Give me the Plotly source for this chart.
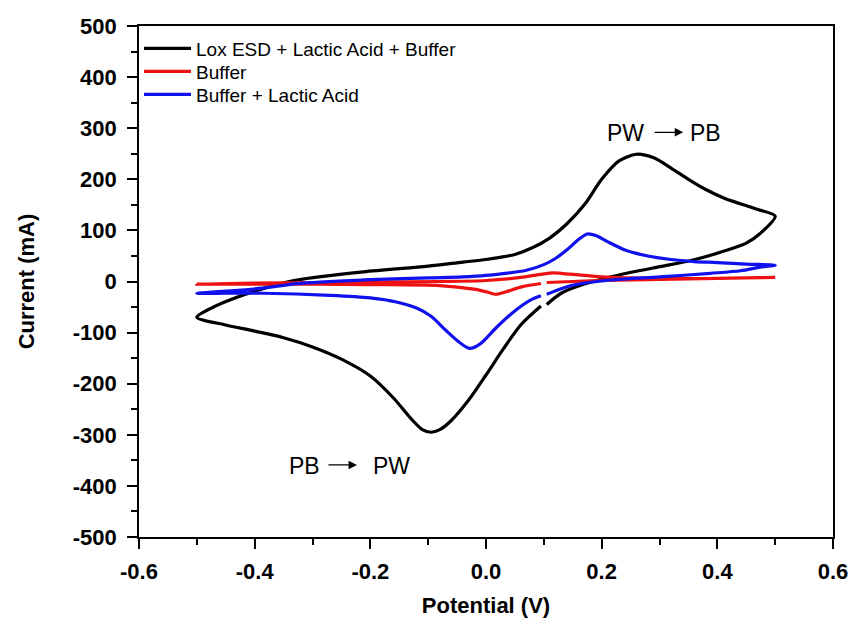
import plotly.graph_objects as go

# ---- data (potential in V, current in mA), each a closed CV loop ----
lox_potential = [0.105, 0.13, 0.17, 0.216, 0.26, 0.301, 0.358, 0.416, 0.45, 0.474, 0.5,
                 0.47, 0.44, 0.41, 0.38, 0.35, 0.32, 0.29, 0.26, 0.23, 0.2, 0.17, 0.14,
                 0.11, 0.08, 0.05, 0.0, -0.04, -0.1, -0.212, -0.327, -0.38, -0.443,
                 -0.475, -0.5,
                 -0.45, -0.4, -0.35, -0.3, -0.25, -0.2, -0.16, -0.13, -0.11, -0.095, -0.08,
                 -0.06, -0.03, 0.0, 0.03, 0.06, 0.095]
lox_current = [-45, -23, -5, 9, 20, 29, 42, 61, 75, 94, 128,
               141, 152, 164, 180, 200, 222, 242, 249, 236, 200, 150, 113,
               85, 66, 53, 43, 38, 30, 19, 3, -12, -36,
               -52, -70,
               -85, -97, -110, -128, -152, -185, -228, -268, -290, -295, -290,
               -272, -232, -183, -132, -85, -48]

buffer_potential = [0.105, 0.15, 0.2, 0.3, 0.4, 0.5,
                    0.45, 0.4, 0.3, 0.2, 0.16, 0.13, 0.115, 0.1, 0.06, 0.0, -0.08, -0.2, -0.3,
                    -0.4, -0.5,
                    -0.4, -0.3, -0.2, -0.08, -0.021, 0.0, 0.018, 0.035, 0.063, 0.095]
buffer_current = [-2, 0, 2, 4, 6, 8,
                  7, 6, 6, 9, 13, 16, 17, 15, 8, 2, 0, -1, -2,
                  -3, -5,
                  -5, -5, -6, -8, -15, -20, -25, -20, -10, -4]

la_potential = [0.105, 0.13, 0.151, 0.216, 0.301, 0.388, 0.44, 0.474, 0.5,
                0.45, 0.4, 0.36, 0.32, 0.28, 0.244, 0.21, 0.19, 0.175, 0.16, 0.14, 0.12, 0.1,
                0.07, 0.0, -0.04, -0.1, -0.212, -0.327, -0.386, -0.45, -0.5,
                -0.45, -0.386, -0.27, -0.2, -0.155, -0.12, -0.095, -0.07, -0.045, -0.028,
                -0.01, 0.018, 0.045, 0.076, 0.095]
la_current = [-25, -14, -7, 3, 9, 16, 21, 28, 32,
              34, 37, 39, 43, 50, 60, 78, 90, 93, 82, 62, 45, 33,
              22, 12, 9, 7, 3, -4, -13, -19, -23,
              -23, -23, -27, -32, -40, -52, -68, -95, -120, -131,
              -122, -90, -62, -37, -28]

series_names = ["Lox ESD + Lactic Acid + Buffer", "Buffer", "Buffer + Lactic Acid"]
series_colors = ["#000000", "#ee1111", "#1111ee"]

x_ticks = [-0.6, -0.4, -0.2, 0.0, 0.2, 0.4, 0.6]
x_tick_labels = ["-0.6", "-0.4", "-0.2", "0.0", "0.2", "0.4", "0.6"]
y_ticks = [500, 400, 300, 200, 100, 0, -100, -200, -300, -400, -500]
y_tick_labels = ["500", "400", "300", "200", "100", "0", "-100", "-200", "-300", "-400", "-500"]

FONT = "Liberation Sans, Arial, sans-serif"

legend_ids = ["legend", "legend2", "legend3"]
legend_rows = [0.956, 0.911, 0.866]   # paper-y of each legend row

fig = go.Figure()
for name, color, xs, ys, lg in zip(series_names, series_colors,
                                   [lox_potential, buffer_potential, la_potential],
                                   [lox_current, buffer_current, la_current], legend_ids):
    fig.add_trace(go.Scatter(x=xs, y=ys, mode="lines", name=name, legend=lg,
                             line=dict(color=color, width=3.2, shape="spline", smoothing=0.8)))

axis_common = dict(showline=True, linecolor="black", linewidth=1.6, mirror=True,
                   ticks="outside", tickwidth=1.6, ticklen=10, tickcolor="black",
                   showgrid=False, zeroline=False, automargin=False,
                   ticklabeloverflow="allow",
                   tickfont=dict(family=FONT, size=22, color="black", weight="bold"))

fig.update_xaxes(range=[-0.6, 0.6], tickvals=x_ticks, ticktext=x_tick_labels,
                 ticklabelstandoff=4,
                 minor=dict(dtick=0.1, ticks="outside", ticklen=6, tickwidth=1.6, tickcolor="black"),
                 title=dict(text="Potential (V)", font=dict(family=FONT, size=22, color="black", weight="bold"),
                            standoff=14),
                 **axis_common)
fig.update_yaxes(range=[-500, 500], tickvals=y_ticks, ticktext=y_tick_labels,
                 ticklabelstandoff=6,
                 minor=dict(dtick=50, ticks="outside", ticklen=6, tickwidth=1.6, tickcolor="black"),
                 title=dict(text="Current (mA)", font=dict(family=FONT, size=22, color="black", weight="bold"),
                            standoff=32),
                 **axis_common)

ann_font = dict(family=FONT, size=23, color="black")
# top: PW -> PB
fig.add_annotation(x=0.242, y=290, text="PW", showarrow=False, font=ann_font)
fig.add_annotation(x=0.379, y=290, text="PB", showarrow=False, font=ann_font)
fig.add_annotation(x=0.341, y=292, ax=0.289, ay=292, axref="x", ayref="y", xref="x", yref="y",
                   text="", showarrow=True, arrowhead=2, arrowsize=1.3, arrowwidth=1.3, arrowcolor="black")
# bottom: PB -> PW
fig.add_annotation(x=-0.313, y=-361, text="PB", showarrow=False, font=ann_font)
fig.add_annotation(x=-0.163, y=-361, text="PW", showarrow=False, font=ann_font)
fig.add_annotation(x=-0.223, y=-359, ax=-0.275, ay=-359, axref="x", ayref="y", xref="x", yref="y",
                   text="", showarrow=True, arrowhead=2, arrowsize=1.3, arrowwidth=1.3, arrowcolor="black")

legend_style = dict(x=0.0, xanchor="left", yanchor="middle", bgcolor="rgba(0,0,0,0)",
                    font=dict(family=FONT, size=19, color="black"), itemwidth=47)

fig.update_layout(
    width=852, height=619,
    margin=dict(l=139, r=19, t=26, b=82),
    paper_bgcolor="white", plot_bgcolor="white",
    showlegend=True,
    legend=dict(y=legend_rows[0], **legend_style),
    legend2=dict(y=legend_rows[1], **legend_style),
    legend3=dict(y=legend_rows[2], **legend_style),
    font=dict(family=FONT),
)

fig.write_html("out.html", config={"displayModeBar": False},
               post_script="document.body.style.margin='0';document.body.style.overflow='hidden';")
